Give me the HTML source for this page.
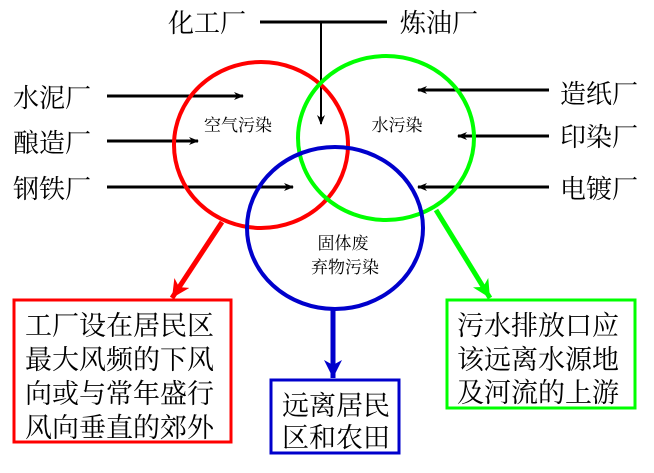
<!DOCTYPE html>
<html><head><meta charset="utf-8"><style>
html,body{margin:0;padding:0;background:#fff;}
svg{display:block;}
text{font-family:"Noto Serif CJK SC","Liberation Serif",serif;fill:#000;}
.s{font-family:"Liberation Sans","Noto Sans CJK SC",sans-serif;}
</style></head><body>
<svg width="654" height="473" viewBox="0 0 654 473" xmlns="http://www.w3.org/2000/svg">
<defs>
<marker id="ak" markerWidth="10" markerHeight="8" refX="9" refY="4" orient="auto" markerUnits="userSpaceOnUse"><path d="M0,0 L10,4 L0,8 L3,4 Z" fill="#000"/></marker>
<marker id="ar" markerWidth="20" markerHeight="18" refX="18" refY="9" orient="auto" markerUnits="userSpaceOnUse"><path d="M0,0 L18,9 L0,18 L5,9 Z" fill="#f00"/></marker>
<marker id="ag" markerWidth="20" markerHeight="18" refX="18" refY="9" orient="auto" markerUnits="userSpaceOnUse"><path d="M0,0 L18,9 L0,18 L5,9 Z" fill="#0f0"/></marker>
<marker id="ab" markerWidth="20" markerHeight="18" refX="18" refY="9" orient="auto" markerUnits="userSpaceOnUse"><path d="M0,0 L18,9 L0,18 L5,9 Z" fill="#00c"/></marker>
</defs>
<g font-size="26">
<text x="168" y="32">化工厂</text>
<text x="400" y="32">炼油厂</text>
<text x="13" y="107">水泥厂</text>
<text x="13" y="152">酿造厂</text>
<text x="13" y="198">钢铁厂</text>
<text x="560" y="103">造纸厂</text>
<text x="560" y="146">印染厂</text>
<text x="560" y="198">电镀厂</text>
</g>
<line x1="260" y1="22" x2="387" y2="22" stroke="#000" stroke-width="3"/>
<line x1="321" y1="22" x2="321" y2="124" stroke="#000" stroke-width="2" marker-end="url(#ak)"/>
<g stroke="#000" stroke-width="3">
<line x1="107" y1="96" x2="243" y2="96" marker-end="url(#ak)"/>
<line x1="107" y1="141" x2="198" y2="141" marker-end="url(#ak)"/>
<line x1="107" y1="187" x2="293" y2="187" marker-end="url(#ak)"/>
<line x1="549" y1="90" x2="418" y2="90" marker-end="url(#ak)"/>
<line x1="549" y1="136" x2="458" y2="136" marker-end="url(#ak)"/>
<line x1="549" y1="187" x2="418" y2="187" marker-end="url(#ak)"/>
</g>
<ellipse cx="261" cy="145" rx="87" ry="83" fill="none" stroke="#f00" stroke-width="4"/>
<ellipse cx="386" cy="138" rx="88" ry="82" fill="none" stroke="#0f0" stroke-width="4"/>
<ellipse cx="335" cy="228" rx="88" ry="81" fill="none" stroke="#00c" stroke-width="4"/>
<g font-size="17">
<text x="238" y="131" text-anchor="middle">空气污染</text>
<text x="397" y="131" text-anchor="middle">水污染</text>
<text x="343" y="249" text-anchor="middle">固体废</text>
<text x="345" y="273" text-anchor="middle">弃物污染</text>
</g>
<line x1="222" y1="222" x2="172" y2="298" stroke="#f00" stroke-width="5" marker-end="url(#ar)"/>
<line x1="436" y1="210" x2="490" y2="298" stroke="#0f0" stroke-width="5" marker-end="url(#ag)"/>
<line x1="333" y1="310" x2="333" y2="378" stroke="#00c" stroke-width="5" marker-end="url(#ab)"/>
<rect x="14" y="300" width="217" height="142" fill="none" stroke="#f00" stroke-width="3"/>
<rect x="271" y="380" width="128" height="73" fill="none" stroke="#00c" stroke-width="3"/>
<rect x="447" y="300" width="188" height="108" fill="none" stroke="#0f0" stroke-width="3"/>
<g font-size="27">
<text x="25" y="335">工厂设在居民区</text>
<text x="25" y="369">最大风频的下风</text>
<text x="25" y="403">向或与常年盛行</text>
<text x="25" y="437">风向垂直的郊外</text>
<text x="282" y="415">远离居民</text>
<text x="282" y="447">区和农田</text>
<text x="457" y="335">污水排放口应</text>
<text x="457" y="369">该远离水源地</text>
<text x="457" y="402">及河流的上游</text>
</g>
</svg>
</body></html>
